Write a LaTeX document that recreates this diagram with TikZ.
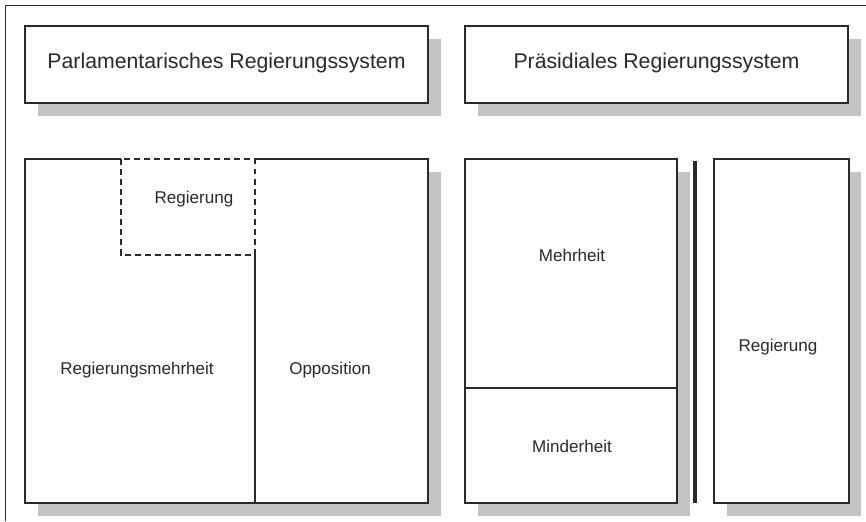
\documentclass[tikz,border=0pt]{standalone}
\usepackage{fontspec}
\setmainfont{Liberation Sans}
\usepackage{xcolor}

\definecolor{rahmen}{HTML}{2A2A2A}
\definecolor{schatten}{HTML}{C4C4C4}

\tikzset{
    kasten/.style={draw=rahmen, line width=1pt, fill=white},
    linie/.style={draw=rahmen, line width=1pt},
    gestrichelt/.style={draw=rahmen, line width=1pt, dash pattern=on 3.4pt off 2.3pt},
    titel/.style={font=\fontsize{12.1}{14}\selectfont, text=rahmen},
    inhalt/.style={font=\fontsize{9.7}{12}\selectfont, text=rahmen}
}

\begin{document}
\begin{tikzpicture}[x=0.2cm, y=-0.2cm]
                \useasboundingbox (0,0) rectangle (86.6,52.1);

                %% Rahmen
                \draw[rahmen, line width=1pt] (0.55,52.1) -- (0.55,0.55) -- (86.6,0.55);

                %% Titel
                \fill[schatten] (3.8,3.9) rectangle (44.1,11.6);
                \draw[kasten] (2.5,2.6) rectangle (42.8,10.3);
                \node[titel] (parl) at (22.65,6.3) {Parlamentarisches Regierungssystem};

                \fill[schatten] (47.8,3.9) rectangle (86.1,11.6);
                \draw[kasten] (46.5,2.6) rectangle (84.8,10.3);
                \node[titel] (praes) at (65.65,6.3) {Präsidiales Regierungssystem};

                %% Parlamentarisch
                \fill[schatten] (3.8,17.2) rectangle (44.1,51.6);
                \fill[white] (2.5,15.9) rectangle (42.8,50.3);
                \draw[linie] (12.1,15.9) -- (2.5,15.9) -- (2.5,50.3) -- (42.8,50.3)
                    -- (42.8,15.9) -- (25.5,15.9);
                \draw[linie] (25.5,25.5) -- (25.5,50.3);
                \draw[gestrichelt] (12.1,15.9) rectangle (25.5,25.5);

                \node[inhalt] (reg) at (19.4,19.9) {Regierung};
                \node[inhalt] (regmehr) at (13.7,37.0) {Regierungsmehrheit};
                \node[inhalt] (oppo) at (33.0,37.0) {Opposition};

                %% Präsidial
                \fill[schatten] (47.8,17.2) rectangle (69.0,51.6);
                \draw[kasten] (46.5,15.9) rectangle (67.7,50.3);
                \draw[linie] (46.5,38.8) -- (67.7,38.8);
                \node[inhalt] (mehr) at (57.2,25.5) {Mehrheit};
                \node[inhalt] (minder) at (57.2,44.6) {Minderheit};

                % Trennung
                \draw[rahmen, line width=2.4pt] (69.5,16.1) -- (69.5,50.3);

                \fill[schatten] (72.7,17.2) rectangle (86.1,51.6);
                \draw[kasten] (71.4,15.9) rectangle (84.9,50.3);
                \node[inhalt] (regp) at (77.8,34.7) {Regierung};

            \end{tikzpicture}
\end{document}
